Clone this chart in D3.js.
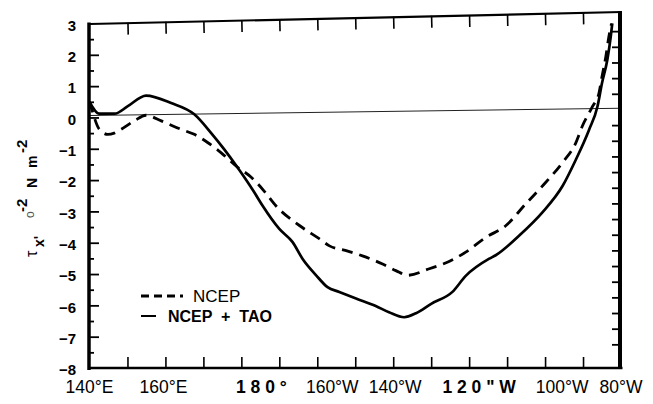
<!DOCTYPE html>
<html><head><meta charset="utf-8">
<script src="https://cdn.jsdelivr.net/npm/d3@7"></script>
<style>
body{margin:0;background:#fff}
svg{display:block}
text{font-family:"Liberation Sans",Arial,Helvetica,sans-serif;fill:#000}
</style>
</head><body><svg id="c" width="653" height="404"></svg>
<script>
// ---- data (longitude in degrees east, stress in 10^-2 N m^-2) ----
const ncepLon = [140.0,140.5,142.6,144.8,146.5,148.3,151.8,154.9,158.9,164.1,167.6,171.1,174.7,178.6,182.6,186.0,189.1,195.3,200.5,203.2,207.6,211.9,217.2,220.7,223.8,229.5,234.7,239.1,244.4,249.7,254.9,260.2,264.6,268.1,269.8,272.5,274.2,275.0,276.0,276.8,277.5];
const ncepStress = [0.5,0.3,-0.38,-0.54,-0.5,-0.38,-0.11,0.07,-0.11,-0.38,-0.54,-0.8,-1.13,-1.55,-1.91,-2.35,-2.82,-3.45,-3.87,-4.1,-4.25,-4.42,-4.68,-4.89,-5.04,-4.83,-4.6,-4.3,-3.83,-3.45,-2.76,-2.07,-1.44,-0.81,-0.28,0.35,0.78,1.31,1.94,2.58,3.0];
const taoLon = [140.0,142.6,146.6,150.1,154.9,161.5,167.6,172.0,175.5,179.0,183.4,185.6,190.0,193.5,196.1,199.7,202.7,205.8,210.2,215.4,218.9,222.9,226.0,230.0,235.6,239.1,245.3,247.0,253.2,259.3,264.6,268.1,271.6,273.8,275.0,276.4,277.3,277.7];
const taoStress = [0.5,0.12,0.12,0.36,0.7,0.46,0.1,-0.49,-1.02,-1.6,-2.39,-2.82,-3.56,-3.98,-4.51,-5.04,-5.42,-5.57,-5.78,-6.02,-6.22,-6.38,-6.25,-5.95,-5.57,-5.06,-4.51,-4.4,-3.77,-3.03,-2.19,-1.35,-0.39,0.35,1.1,1.84,2.58,3.0];

const xTickValues = [140,160,180,200,220,240,260,280];
const xTickLabels = ["140°E","160°E","1 8 0 °","160°W","140°W","1 2 0 \" W","100°W","80°W"];
const xMinorTicks = [150,160,170,180,190,200,210,220,230,240,250,260,270];
const yTickValues = [3,2,1,0,-1,-2,-3,-4,-5,-6,-7,-8];
const yMinorTicks = [2.5,1.5,0.5,-0.5,-1.5,-2.5,-3.5,-4.5,-5.5,-6.5,-7.5];
const yHalfTicks = [2.5,2,1.5,1,0.5,-0.5,-1,-1.5,-2,-2.5,-3,-3.5,-4,-4.5,-5,-5.5,-6,-6.5,-7,-7.5];
const legendLabels = ["NCEP","NCEP  +  TAO"];

// ---- styling (not data) ----
const xLabelShift = [0,-2,20,15,2,10,17,0];
const xLabelBold = [false,false,true,false,false,true,false,false];

const svg = d3.select('#c');
const x = d3.scaleLinear().domain([140,280]).range([89.5,621]);
const y = d3.scaleLinear().domain([-8,3]).range([368,23.5]);

// zero reference line (slightly tilted as in the scan)
svg.append('line')
  .attr('x1',x(140)).attr('x2',x(280)).attr('y1',y(0)-2).attr('y2',y(0)-2)
  .attr('stroke','#222').attr('stroke-width',1)
  .attr('transform',`rotate(-0.78 ${x(140)} ${y(0)-2})`);

// top frame with inward ticks (tilted)
const topG = svg.append('g')
  .attr('transform',`translate(0,${y(3)}) rotate(-1.29 ${x(140)} 0)`);
topG.call(d3.axisBottom(x).tickValues(xMinorTicks).tickSize(12).tickSizeOuter(0).tickFormat(''));
topG.select('.domain').attr('stroke-width',2.2);
topG.selectAll('.tick line').attr('stroke-width',1.6);

// left axis line
svg.append('line').attr('x1',89).attr('x2',89).attr('y1',y(3)-1).attr('y2',y(-8)+2)
  .attr('stroke','#000').attr('stroke-width',3.5);
const lMaj = svg.append('g').attr('transform','translate(89,0)')
  .call(d3.axisRight(y).tickValues(yTickValues.filter(v=>v<3&&v>-8)).tickSize(10).tickFormat(''));
lMaj.select('.domain').remove();
lMaj.selectAll('.tick line').attr('stroke-width',1.8);
const lMin = svg.append('g').attr('transform','translate(89,0)')
  .call(d3.axisRight(y).tickValues(yMinorTicks).tickSize(5).tickFormat(''));
lMin.select('.domain').remove();
lMin.selectAll('.tick line').attr('stroke-width',1.8);

// y tick labels
const lLab = svg.append('g').attr('transform','translate(89,2)')
  .call(d3.axisLeft(y).tickValues(yTickValues).tickSize(0).tickPadding(13).tickFormat(d=>d3.format('d')(d)));
lLab.select('.domain').remove();
lLab.selectAll('text').attr('font-size',15).attr('font-weight','bold')
  .style('font-family','"Liberation Sans",Arial,sans-serif');

// bottom axis
svg.append('line').attr('x1',x(140)).attr('x2',x(280)+1.5).attr('y1',y(-8)).attr('y2',y(-8))
  .attr('stroke','#000').attr('stroke-width',2.6);
const bG = svg.append('g').attr('transform',`translate(0,${y(-8)})`)
  .call(d3.axisTop(x).tickValues(xMinorTicks).tickSize(11).tickFormat(''));
bG.select('.domain').remove();
bG.selectAll('.tick line').attr('stroke-width',1.6);

// x tick labels
svg.append('g').selectAll('text').data(xTickValues).join('text')
  .attr('x',(d,i)=>x(d)+xLabelShift[i]).attr('y',393)
  .attr('text-anchor','middle').attr('font-size',17.5)
  .attr('font-weight',(d,i)=>xLabelBold[i]?'bold':'normal')
  .style('white-space','pre')
  .text((d,i)=>xTickLabels[i]);

// right axis
svg.append('line').attr('x1',620).attr('x2',620).attr('y1',11).attr('y2',y(-8)+1)
  .attr('stroke','#000').attr('stroke-width',4);
const rG = svg.append('g').attr('transform','translate(619,-8)')
  .call(d3.axisLeft(y).tickValues(yHalfTicks).tickSize(7).tickFormat(''));
rG.select('.domain').remove();
rG.selectAll('.tick line').attr('stroke-width',1.8);

// curves
const line = d3.line().x(d=>x(d[0])).y(d=>y(d[1])).curve(d3.curveMonotoneX);
svg.append('path').datum(ncepLon.map((l,i)=>[l,ncepStress[i]]))
  .attr('d',line).attr('fill','none').attr('stroke','#000')
  .attr('stroke-width',2.8).attr('stroke-dasharray','11,7');
svg.append('path').datum(taoLon.map((l,i)=>[l,taoStress[i]]))
  .attr('d',line).attr('fill','none').attr('stroke','#000')
  .attr('stroke-width',2.7);

// legend
svg.append('line').attr('x1',141).attr('x2',183).attr('y1',296).attr('y2',296)
  .attr('stroke','#000').attr('stroke-width',2.8).attr('stroke-dasharray','8,5');
svg.append('text').attr('x',193).attr('y',302).attr('font-size',17).text(legendLabels[0]);
svg.append('line').attr('x1',141).attr('x2',156).attr('y1',316).attr('y2',316)
  .attr('stroke','#000').attr('stroke-width',2);
svg.append('text').attr('x',168).attr('y',322).attr('font-size',16).attr('font-weight','bold')
  .style('white-space','pre').text(legendLabels[1]);

// y axis title (rotated)
const t = svg.append('text').attr('transform','translate(37,257) rotate(-90)').attr('font-size',14);
t.append('tspan').attr('x',0).attr('y',0).attr('font-size',16).text('τ');
t.append('tspan').attr('x',10).attr('y',7).attr('font-weight','bold').text("x'");
t.append('tspan').attr('x',39).attr('y',-3).attr('font-size',12).attr('fill','#555').text('o');
t.append('tspan').attr('x',45).attr('y',-10).attr('font-weight','bold').attr('font-size',15).text('-2');
t.append('tspan').attr('x',69).attr('y',0).attr('font-weight','bold').text('N');
t.append('tspan').attr('x',89).attr('y',0).attr('font-weight','bold').text('m');
t.append('tspan').attr('x',104).attr('y',-10).attr('font-weight','bold').attr('font-size',15).text('-2');
</script>
</body></html>
